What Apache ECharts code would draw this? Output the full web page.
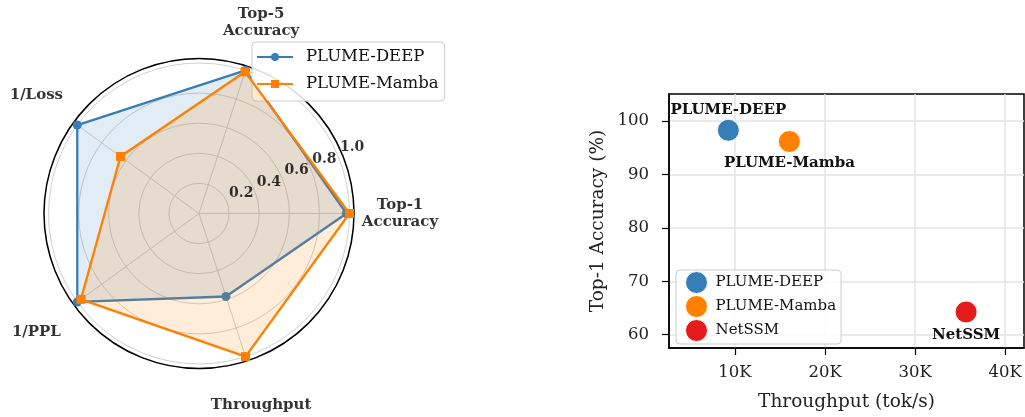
<!DOCTYPE html>
<html><head><meta charset="utf-8">
<script src="https://cdn.jsdelivr.net/npm/echarts@6.0.0/dist/echarts.min.js"></script>
<style>html,body{margin:0;padding:0;background:#fff}#c{width:1025px;height:417px}</style>
</head><body><div id="c"></div>
<script>
// ---- data ----
const radarCategories = ['Top-1\nAccuracy', 'Top-5\nAccuracy', '1/Loss', '1/PPL', 'Throughput'];
const radarDeep = [0.98, 1.0, 1.0, 1.0, 0.58];
const radarMamba = [1.0, 0.99, 0.645, 0.97, 1.0];
const radialTicks = [0.2, 0.4, 0.6, 0.8, 1.0];
const scatterModels = ['PLUME-DEEP', 'PLUME-Mamba', 'NetSSM'];
const scatterThroughput = [9260, 16040, 35670];
const scatterTop1 = [98.3, 96.2, 64.25];
const xTicks = [10000, 20000, 30000, 40000];
const yTicks = [60, 70, 80, 90, 100];

// ---- styles ----
const FONT = 'DejaVu Serif';
const colors = ['#377eb8', '#ff7f00', '#e41a1c'];
const CENTER = [199, 213.5];
const N = radarCategories.length;
// each point: [radius value, category index]; the polygon is closed by repeating the first value at index N
const closed = arr => arr.map((v, i) => [v, i]).concat([[arr[0], N]]);
const labelPos = [{position: 'top', distance: 1}, {position: 'bottom', distance: 3}, {position: 'bottom', distance: 4}];

const chart = echarts.init(document.getElementById('c'));
chart.setOption({
  animation: false,
  backgroundColor: '#fff',
  polar: [
    {center: CENTER, radius: 155},
    {center: CENTER, radius: 201},
    {center: CENTER, radius: 150}
  ],
  angleAxis: [
    {polarIndex: 0, type: 'value', min: 0, max: N, interval: 1, startAngle: 0, clockwise: false,
     axisLine: {show: true, lineStyle: {color: '#000', width: 1.5}}, axisTick: {show: false}, axisLabel: {show: false},
     splitLine: {show: true, lineStyle: {color: '#d0d0d0', width: 1}}},
    {polarIndex: 1, type: 'value', min: 0, max: N, startAngle: 0, clockwise: false, show: false},
    {polarIndex: 2, type: 'value', min: 0, max: 360, startAngle: 0, clockwise: false, show: false}
  ],
  radiusAxis: [
    {polarIndex: 0, type: 'value', min: 0, max: 1.03, interval: 0.2,
     axisLine: {show: false}, axisTick: {show: false}, axisLabel: {show: false},
     splitLine: {show: true, lineStyle: {color: '#d0d0d0', width: 1}}},
    {polarIndex: 1, type: 'value', min: 0, max: 1, show: false},
    {polarIndex: 2, type: 'value', min: 0, max: 1, show: false}
  ],
  grid: {left: 669, top: 94, right: 1, bottom: 69, show: true, borderColor: '#000', borderWidth: 1.5, backgroundColor: 'rgba(0,0,0,0)'},
  xAxis: {type: 'value', min: 2667, max: 42100,
    axisLine: {show: true, lineStyle: {color: '#000', width: 1.5}},
    axisTick: {show: true, length: 7, customValues: xTicks, lineStyle: {color: '#000', width: 1.2}},
    axisLabel: {customValues: xTicks, formatter: v => (v / 1000) + 'K', fontFamily: FONT, fontSize: 16.5, color: '#222', margin: 16},
    splitLine: {show: true, lineStyle: {color: '#e3e3e3', width: 1.5}},
    name: 'Throughput (tok/s)', nameLocation: 'middle', nameGap: 45,
    nameTextStyle: {fontFamily: FONT, fontSize: 18.5, color: '#222'}},
  yAxis: {type: 'value', min: 57.5, max: 105.1,
    axisLine: {show: true, lineStyle: {color: '#000', width: 1.5}},
    axisTick: {show: true, length: 7, customValues: yTicks, lineStyle: {color: '#000', width: 1.2}},
    axisLabel: {customValues: yTicks, fontFamily: FONT, fontSize: 16.5, color: '#222', margin: 20},
    splitLine: {show: true, lineStyle: {color: '#e3e3e3', width: 1.5}},
    name: 'Top-1 Accuracy (%)', nameLocation: 'middle', nameGap: 61,
    nameTextStyle: {fontFamily: FONT, fontSize: 18.5, color: '#222'}},
  legend: [
    {data: ['PLUME-DEEP', 'PLUME-Mamba'], orient: 'vertical', left: 252, top: 42,
     itemWidth: 36, itemHeight: 10, itemGap: 9, padding: [6, 6, 8, 4], selectedMode: false,
     textStyle: {fontFamily: FONT, fontSize: 16.5, color: '#111', lineHeight: 18, padding: [0, 0, 0, 8]},
     borderColor: '#cccccc', borderWidth: 1, borderRadius: 4, backgroundColor: 'rgba(255,255,255,0.85)'},
    {data: scatterModels.map((n, i) => ({name: n, itemStyle: {color: colors[i], borderColor: '#fff', borderWidth: 1}})),
     orient: 'vertical', left: 676, top: 270, icon: 'circle',
     itemWidth: 22, itemHeight: 22, itemGap: 1, padding: [1, 5, 2, 9], selectedMode: false,
     textStyle: {fontFamily: FONT, fontSize: 15, color: '#111', padding: [0, 0, 0, 3]},
     borderColor: '#cccccc', borderWidth: 1, borderRadius: 4, backgroundColor: 'rgba(255,255,255,0.85)'}
  ],
  series: [
    {type: 'line', name: 'PLUME-DEEP', coordinateSystem: 'polar', polarIndex: 0, data: closed(radarDeep),
     symbol: 'circle', symbolSize: 9, clip: false, z: 3,
     lineStyle: {width: 2.3, color: colors[0]}, itemStyle: {color: colors[0]},
     areaStyle: {color: colors[0], opacity: 0.15}},
    {type: 'line', name: 'PLUME-Mamba', coordinateSystem: 'polar', polarIndex: 0, data: closed(radarMamba),
     symbol: 'rect', symbolSize: 9, clip: false, z: 4,
     lineStyle: {width: 2.3, color: colors[1]}, itemStyle: {color: colors[1]},
     areaStyle: {color: colors[1], opacity: 0.15}},
    {type: 'scatter', name: 'axisNames', coordinateSystem: 'polar', polarIndex: 1, silent: true, clip: false,
     data: radarCategories.map((c, i) => [1, i]), symbolSize: 0.1, itemStyle: {color: 'rgba(0,0,0,0)'},
     label: {show: true, position: 'inside', formatter: p => radarCategories[p.dataIndex],
       fontFamily: FONT, fontWeight: 'bold', fontSize: 15, lineHeight: 17, color: '#000'}},
    {type: 'scatter', name: 'radialTicks', coordinateSystem: 'polar', polarIndex: 2, silent: true, clip: false, z: 5,
     data: radialTicks.map(v => [v, 22.5]), symbolSize: 0.1, itemStyle: {color: 'rgba(0,0,0,0)'},
     label: {show: true, position: 'inside', offset: [14.5, -8.5], formatter: p => radialTicks[p.dataIndex].toFixed(1),
       fontFamily: FONT, fontWeight: 'bold', fontSize: 14, color: '#000'}},
    ...scatterModels.map((name, i) => ({
      type: 'scatter', name: name, xAxisIndex: 0, yAxisIndex: 0, z: 6,
      data: [[scatterThroughput[i], scatterTop1[i]]], symbolSize: 22,
      itemStyle: {color: colors[i], borderColor: '#fff', borderWidth: 1, opacity: 1},
      label: {show: true, formatter: name, position: labelPos[i].position, distance: labelPos[i].distance,
        fontFamily: FONT, fontWeight: 'bold', fontSize: 15, color: '#111'}
    }))
  ]
});
</script>
</body></html>
